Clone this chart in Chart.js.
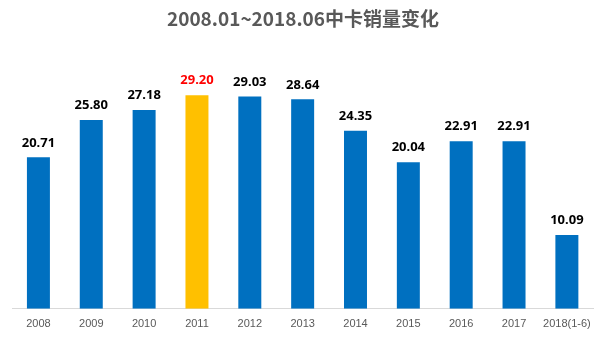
<!DOCTYPE html>
<html><head><meta charset="utf-8">
<script src="https://cdn.jsdelivr.net/npm/chart.js@4/dist/chart.umd.min.js"></script>
<style>html,body{margin:0;padding:0;background:#fff;}#wrap{width:600px;height:338px;}</style>
</head><body><div id="wrap"><canvas id="c" width="600" height="338"></canvas></div>
<script>
const categories = ['2008','2009','2010','2011','2012','2013','2014','2015','2016','2017','2018(1-6)'];
const sales = [20.71,25.80,27.18,29.20,29.03,28.64,24.35,20.04,22.91,22.91,10.09];
const highlightIndex = 3;
const titleText = '2008.01~2018.06中卡销量变化';

const barColors = sales.map((v,i)=> i===highlightIndex ? '#FFC000' : '#0070C0');
const labelColors = sales.map((v,i)=> i===highlightIndex ? '#FF0000' : '#000000');

const valueLabels = {
  id:'valueLabels',
  afterDatasetsDraw(chart){
    const ctx = chart.ctx;
    const meta = chart.getDatasetMeta(0);
    ctx.save();
    ctx.font = 'bold 13px "Noto Sans", Arial, sans-serif';
    ctx.textAlign = 'center';
    ctx.textBaseline = 'bottom';
    meta.data.forEach((bar,i)=>{
      ctx.fillStyle = labelColors[i];
      ctx.fillText(sales[i].toFixed(2), bar.x, bar.y - 8);
    });
    ctx.restore();
  }
};

new Chart(document.getElementById('c'), {
  type:'bar',
  data:{labels:categories, datasets:[{data:sales, backgroundColor:barColors, barPercentage:0.87, categoryPercentage:0.5}]},
  options:{
    responsive:false, animation:false,
    layout:{padding:{left:12, right:6, top:0, bottom:-2}},
    plugins:{
      legend:{display:false}, tooltip:{enabled:false},
      title:{display:true, text:titleText, color:'#595959', font:{family:'"Noto Sans CJK SC", "DejaVu Sans", sans-serif', size:19, weight:'bold'}, padding:{top:7, bottom:23}}
    },
    scales:{
      x:{grid:{display:false, drawTicks:false}, border:{display:true, color:'#D9D9D9', width:1},
         ticks:{color:'#595959', padding:9, maxRotation:0, minRotation:0, autoSkip:false, font:{family:'"Liberation Sans", Arial, sans-serif', size:11}}},
      y:{display:false, min:0, max:35}
    }
  },
  plugins:[valueLabels]
});
</script></body></html>
